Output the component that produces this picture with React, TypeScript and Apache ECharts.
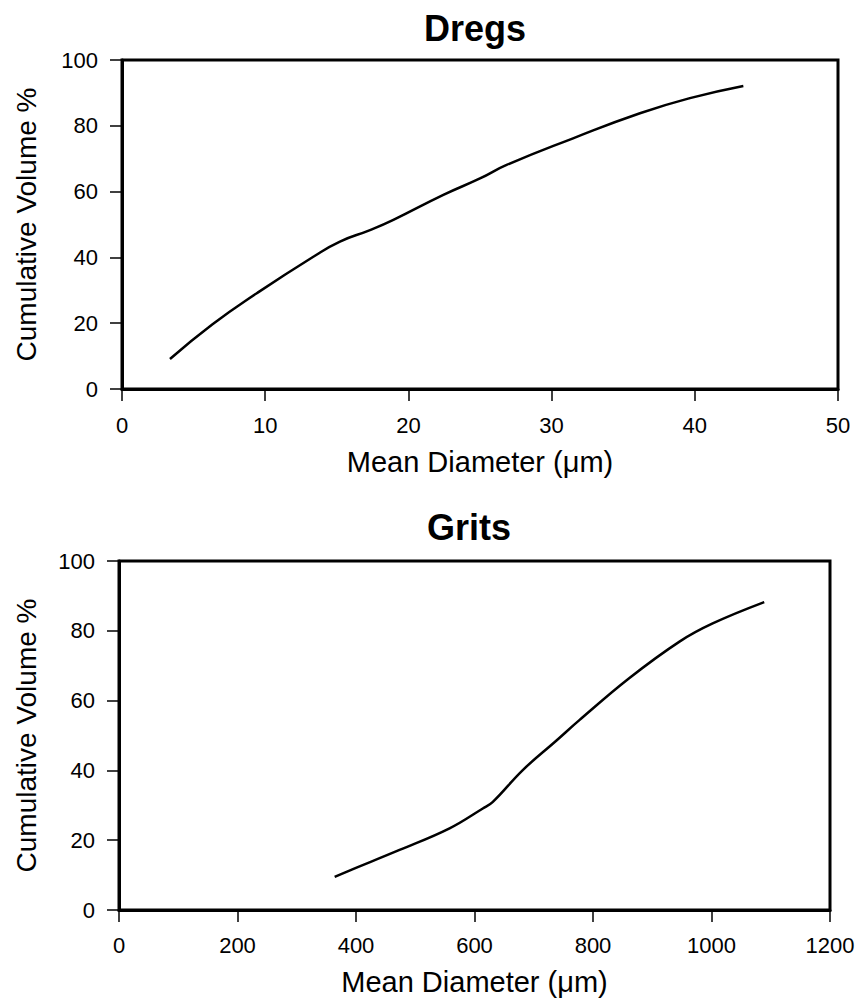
import React, { useEffect, useRef } from "react";
import * as echarts from "echarts";

const dregsX = [3.35, 6.3, 9.41, 13.36, 15.22, 17.32, 18.95, 22.44, 25.0, 26.86, 31.5, 36.17, 39.66, 43.39];
const dregsY = [9.1, 19.6, 29.1, 40.2, 44.8, 48.3, 51.4, 59.0, 64.0, 68.1, 76.2, 83.8, 88.4, 92.1];

const gritsX = [364, 389, 473.5, 557.9, 614, 631, 681.5, 737.9, 777, 861, 946, 1002, 1089];
const gritsY = [9.5, 11.3, 17.2, 23.4, 29.1, 31.0, 40.1, 48.5, 54.4, 66.4, 76.9, 82.1, 88.2];

const titles = ["Dregs", "Grits"];
const yName = "Cumulative Volume %";
const xName = "Mean Diameter (μm)";

const FONT = "'Liberation Sans', Arial, Helvetica, sans-serif";

export default function App() {
  const ref = useRef<HTMLDivElement>(null);
  useEffect(() => {
    if (!ref.current) return;
    const chart = echarts.init(ref.current, undefined, { renderer: "svg" });
    const axisCommon = {
      axisLine: { show: true, lineStyle: { color: "#000", width: 3 } },
      axisTick: { show: true, inside: false, length: 12, lineStyle: { color: "#000", width: 1.5 } },
      splitLine: { show: false },
      axisLabel: { color: "#000", fontSize: 22, fontFamily: FONT, formatter: (v: number) => String(v) },
      nameTextStyle: { color: "#000", fontSize: 28, fontFamily: FONT },
      nameLocation: "middle" as const,
    };
    const option = {
      animation: false,
      backgroundColor: "#fff",
      title: [
        { text: titles[0], left: 470, top: 5, textAlign: "center", textStyle: { fontSize: 36, fontWeight: "bold", color: "#000", fontFamily: FONT } },
        { text: titles[1], left: 464, top: 504, textAlign: "center", textStyle: { fontSize: 36, fontWeight: "bold", color: "#000", fontFamily: FONT } },
      ],
      grid: [
        { left: 122, top: 60, width: 716, height: 329, show: true, borderColor: "#000", borderWidth: 3, backgroundColor: "transparent" },
        { left: 119, top: 561, width: 711, height: 349, show: true, borderColor: "#000", borderWidth: 3, backgroundColor: "transparent" },
      ],
      xAxis: [
        { ...axisCommon, type: "value", gridIndex: 0, min: 0, max: 50, interval: 10, name: xName, nameGap: 58, nameTextStyle: { ...axisCommon.nameTextStyle, fontSize: 29 }, axisLabel: { ...axisCommon.axisLabel, margin: 25 } },
        { ...axisCommon, type: "value", gridIndex: 1, min: 0, max: 1200, interval: 200, name: xName, nameGap: 57, nameTextStyle: { ...axisCommon.nameTextStyle, fontSize: 29 }, axisLabel: { ...axisCommon.axisLabel, margin: 24 } },
      ],
      yAxis: [
        { ...axisCommon, type: "value", gridIndex: 0, min: 0, max: 100, interval: 20, name: yName, nameGap: 82, axisLabel: { ...axisCommon.axisLabel, margin: 24 } },
        { ...axisCommon, type: "value", gridIndex: 1, min: 0, max: 100, interval: 20, name: yName, nameGap: 79, axisLabel: { ...axisCommon.axisLabel, margin: 24 } },
      ],
      series: [
        {
          type: "line", xAxisIndex: 0, yAxisIndex: 0, smooth: 0.5, showSymbol: false,
          lineStyle: { color: "#000", width: 2.5 },
          data: dregsX.map((x, i) => [x, dregsY[i]]),
        },
        {
          type: "line", xAxisIndex: 1, yAxisIndex: 1, smooth: 0.4, showSymbol: false,
          lineStyle: { color: "#000", width: 2.5 },
          data: gritsX.map((x, i) => [x, gritsY[i]]),
        },
      ],
    };
    chart.setOption(option as any);
    return () => chart.dispose();
  }, []);
  return <div ref={ref} style={{ width: 860, height: 1003, position: "absolute", left: 0, top: 0 }} />;
}
